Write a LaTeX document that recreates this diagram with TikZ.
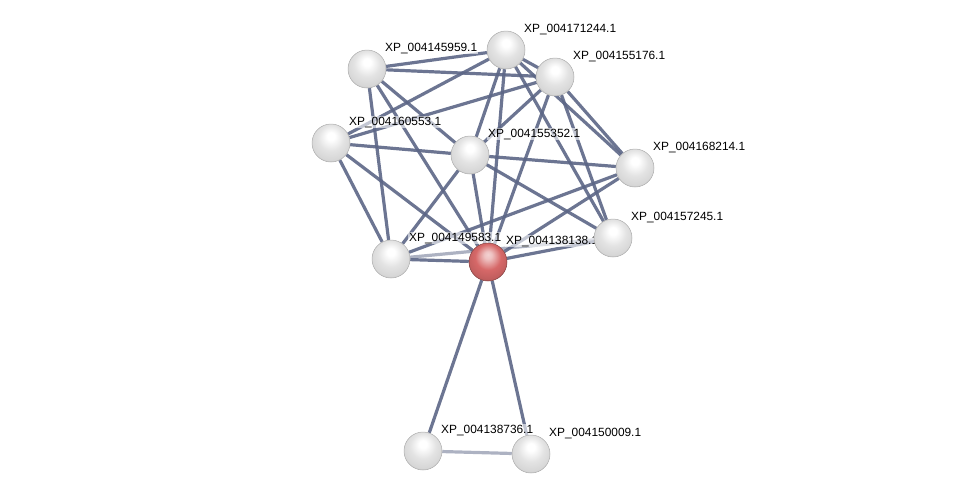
\documentclass[tikz,border=0pt]{standalone}
\usepackage{fontspec}
\setsansfont{Liberation Sans}
\definecolor{edgeblue}{RGB}{92,102,134}
\definecolor{hitred}{RGB}{214,104,104}
\pgfdeclareradialshading{sphere}{\pgfqpoint{0bp}{10bp}}{%
  color(0bp)=(white); color(5bp)=(white); color(17bp)=(gray!22);
  color(27bp)=(gray!32); color(35bp)=(gray!60); color(50bp)=(gray!60)}
\pgfdeclareradialshading{redsphere}{\pgfqpoint{0bp}{10bp}}{%
  color(0bp)=(hitred!30!white); color(5bp)=(hitred!40!white); color(17bp)=(hitred);
  color(27bp)=(hitred!90!black); color(35bp)=(hitred!65!black); color(50bp)=(hitred!65!black)}
\pgfdeclarelayer{edges}
\pgfdeclarelayer{labels}
\pgfsetlayers{edges,labels,main}

\begin{document}
\begin{tikzpicture}[
  x=1pt, y=-1pt,
  v/.style={
    circle,
    minimum size=38pt,
    inner sep=0pt,
    shading=sphere,
    draw=gray!65, line width=0.5pt
  },
  hit/.style={v, shading=redsphere, draw=hitred!60!black},   % query protein
  lbl/.style={anchor=base west, inner sep=1pt, fill=white, fill opacity=0.6, text opacity=1,
    font=\sffamily\fontsize{11.9}{14}\selectfont},
  edge/.style={draw=edgeblue, line width=3.2pt, draw opacity=0.9},
  weak/.style={edge, draw opacity=0.5}
]
\useasboundingbox (0,0) rectangle (976,499);

% --- nodes ---
\node[v]   (a) at (367,69)  {};
\node[v]   (b) at (506,50)  {};
\node[v]   (c) at (555,77)  {};
\node[v]   (d) at (331,143) {};
\node[v]   (e) at (470,155) {};
\node[v]   (f) at (635,168) {};
\node[v]   (h) at (391,259) {};
\node[hit] (i) at (488,262) {};
\node[v]   (g) at (613,238) {};
\node[v]   (j) at (423,451) {};
\node[v]   (k) at (531,454) {};

% --- labels ---
\begin{pgfonlayer}{labels}
\foreach \n/\t in {a/XP\_004145959.1, b/XP\_004171244.1, c/XP\_004155176.1,
                   d/XP\_004160553.1, e/XP\_004155352.1, f/XP\_004168214.1,
                   g/XP\_004157245.1, h/XP\_004149583.1, i/XP\_004138138.1,
                   j/XP\_004138736.1, k/XP\_004150009.1}
  \node[lbl] (l\n) at ([xshift=17pt,yshift=18pt]\n.center) {\t};
\end{pgfonlayer}

% --- edges ---
\begin{pgfonlayer}{edges}
\draw[edge] (a)--(b) (a)--(c) (a)--(e) (a)--(h) (a)--(i);
\draw[edge] (b)--(c) (b)--(d) (b)--(e) (b)--(i) (b)--(f) (b)--(g);
\draw[edge] (c)--(d) (c)--(e) (c)--(i) (c)--(f) (c)--(g);
\draw[edge] (d)--(e) (d)--(h) (d)--(i);
\draw[edge] (e)--(f) (e)--(g) (e)--(h) (e)--(i);
\draw[edge] (f)--(h) (f)--(i) (g)--(i) (h)--(i);
\draw[weak] (h)--(g);
\draw[edge] (i)--(j) (i)--(k);
\draw[weak] (j)--(k);
\end{pgfonlayer}

\end{tikzpicture}
\end{document}
